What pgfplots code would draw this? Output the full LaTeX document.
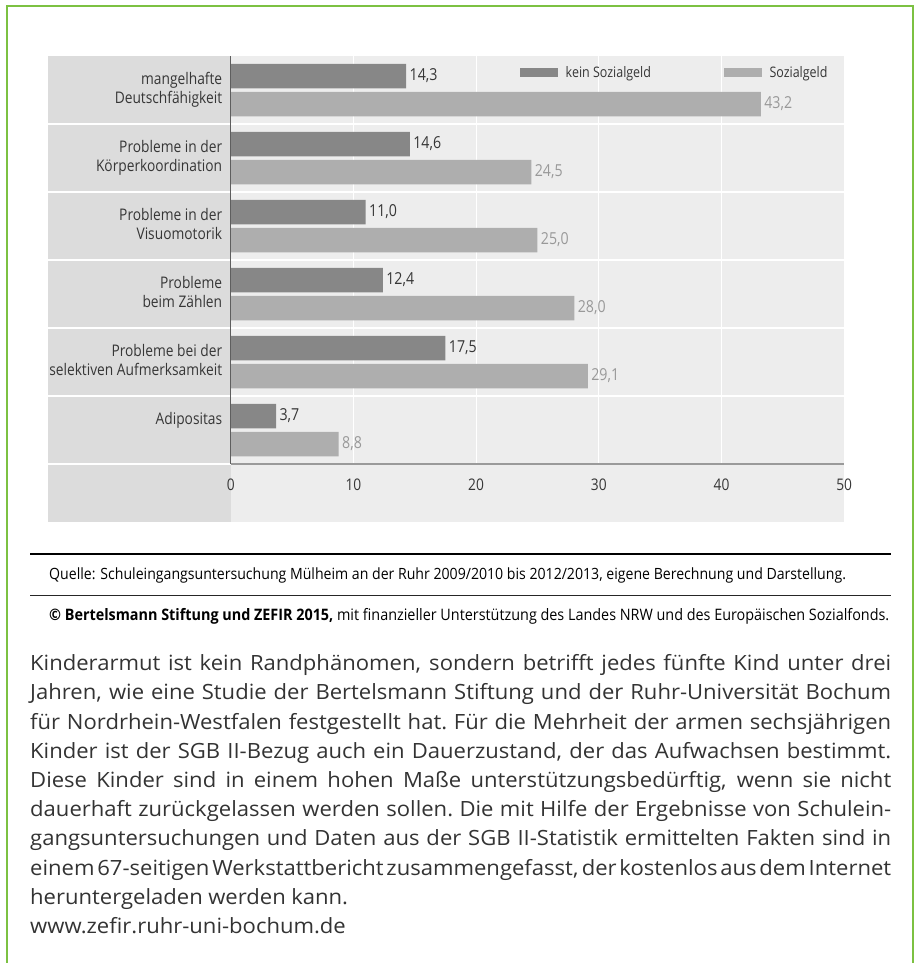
\documentclass[border=0pt]{standalone}
\usepackage{pgfplots}
\pgfplotsset{compat=1.18}
\usepackage{fontspec}
\setmainfont{Open Sans}
\newfontfamily\cond[FakeStretch=0.86]{Open Sans}
\newfontfamily\condw[FakeStretch=0.91]{Open Sans}
\newfontfamily\bodyfont[FakeStretch=1.05]{Open Sans}
\definecolor{frame}{HTML}{7CC142}
\definecolor{labbg}{HTML}{DCDCDC}
\definecolor{plotbg}{HTML}{EDEDED}
\definecolor{darkbar}{HTML}{878787}
\definecolor{lightbar}{HTML}{AEAEAE}
\definecolor{txt}{HTML}{363636}
\definecolor{lighttxt}{HTML}{999999}
\definecolor{axgrey}{HTML}{9A9A9A}
\definecolor{body}{HTML}{333333}
\begin{document}
\begin{tikzpicture}[x=1pt,y=1pt]
\path[use as bounding box] (0,0) rectangle (916,-963);
\draw[frame, line width=2pt] (7,-963) -- (7,-6) -- (913,-6) -- (913,-963);
\fill[labbg] (48.3,-56) rectangle (230.7,-522.3);
\fill[plotbg] (230.7,-56) rectangle (844.2,-522.3);
\foreach \y in {124,192,260,328,396} \draw[white, line width=1.5pt] (48.3,-\y) -- (844.2,-\y);
\draw[white,line width=1.5pt] (48.3,-464) -- (230.7,-464);
\begin{axis}[
  at={(230.7pt,-464pt)}, anchor=south west,
  scale only axis, width=613.5pt, height=408pt,
  xbar, bar width=24.5pt,
  xmin=0, xmax=50, ymin=0, ymax=6,
  enlargelimits=false, clip=false,
  axis line style={draw=none},
  xtick={0,10,20,30,40,50},
  ytick={0.5,1.5,2.5,3.5,4.5,5.5},
  yticklabels={Adipositas,{Probleme bei der\\selektiven Aufmerksamkeit},{Probleme\\beim Zählen},{Probleme in der\\Visuomotorik},{Probleme in der\\Körperkoordination},{mangelhafte\\Deutschfähigkeit}},
  major tick length=0pt,
  xmajorgrids, major grid style={white, line width=1.2pt},
  /pgf/number format/assume math mode=true,
  xticklabel style={font=\cond\fontsize{16}{19}\selectfont, text=txt, yshift=-11pt},
  yticklabel style={font=\cond\fontsize{16}{19}\selectfont, text=txt, align=right, anchor=north east, yshift=21pt, xshift=-5pt},
  nodes near coords,
  every node near coord/.append style={font=\cond\fontsize{16.5}{19}\selectfont, /pgf/number format/fixed, /pgf/number format/fixed zerofill, /pgf/number format/precision=1, /pgf/number format/use comma, /pgf/number format/assume math mode=true},
  legend style={at={(0.4716,0.9596)}, anchor=west, draw=none, fill=none, inner sep=0pt, legend columns=2, font=\cond\fontsize{14.5}{16}\selectfont, text=txt, legend cell align=left},
  legend image code/.code={\fill[#1] (0pt,-4.5pt) rectangle (37.5pt,4.5pt); \path (43.5pt,0pt);},
]
\addplot[fill=darkbar, draw=none, bar shift=14pt, every node near coord/.append style={text=txt}] coordinates {(14.3,5.5) (14.6,4.5) (11.0,3.5) (12.4,2.5) (17.5,1.5) (3.7,0.5)};
\addplot[fill=lightbar, draw=none, bar shift=-14pt, every node near coord/.append style={text=lighttxt}] coordinates {(43.2,5.5) (24.5,4.5) (25.0,3.5) (28.0,2.5) (29.1,1.5) (8.8,0.5)};
\legend{kein Sozialgeld\hspace*{71pt},Sozialgeld}
\draw[axgrey, line width=1.2pt] (axis cs:0,0) -- (axis cs:50,0);
\draw[txt!80, line width=1.2pt] (axis cs:0,0) -- (axis cs:0,6);
\end{axis}
\draw[black, line width=2pt] (30,-554.3) -- (891,-554.3);
\draw[black!85, line width=1pt] (30,-595.7) -- (891,-595.7);
\node[anchor=base west, inner sep=0pt, font=\condw\fontsize{15.5}{18}\selectfont, text=black] at (49,-579) {Quelle: Schuleingangsuntersuchung Mülheim an der Ruhr 2009/2010 bis 2012/2013, eigene Berechnung und Darstellung.};
\node[anchor=base west, inner sep=0pt, font=\condw\fontsize{15.8}{18}\selectfont, text=black] at (49,-620.5) {{\bfseries © Bertelsmann Stiftung und ZEFIR 2015,} mit finanzieller Unterstützung des Landes NRW und des Europäischen Sozialfonds.};
\node[anchor=base west, inner sep=0pt, font=\bodyfont\fontsize{21}{29.2}\selectfont, text=body] at (30,-670.7) {\vtop{%
\spaceskip=0.26em plus 1fil minus 0.16em\xspaceskip=\spaceskip
\baselineskip=29.2pt
\hbox to 861pt{Kinderarmut ist kein Randphänomen, sondern betrifft jedes fünfte Kind unter drei}
\hbox to 861pt{Jahren, wie eine Studie der Bertelsmann Stiftung und der Ruhr-Universität Bochum}
\hbox to 861pt{für Nordrhein-Westfalen festgestellt hat. Für die Mehrheit der armen sechsjährigen}
\hbox to 861pt{Kinder ist der SGB II-Bezug auch ein Dauerzustand, der das Aufwachsen bestimmt.}
\hbox to 861pt{Diese Kinder sind in einem hohen Maße unterstützungsbedürftig, wenn sie nicht}
\hbox to 861pt{dauerhaft zurückgelassen werden sollen. Die mit Hilfe der Ergebnisse von Schulein-}
\hbox to 861pt{gangsuntersuchungen und Daten aus der SGB II-Statistik ermittelten Fakten sind in}
\hbox to 861pt{einem 67-seitigen Werkstattbericht zusammengefasst, der kostenlos aus dem Internet}
\hbox{heruntergeladen werden kann.}
\hbox{www.zefir.ruhr-uni-bochum.de}}};
\end{tikzpicture}
\end{document}
